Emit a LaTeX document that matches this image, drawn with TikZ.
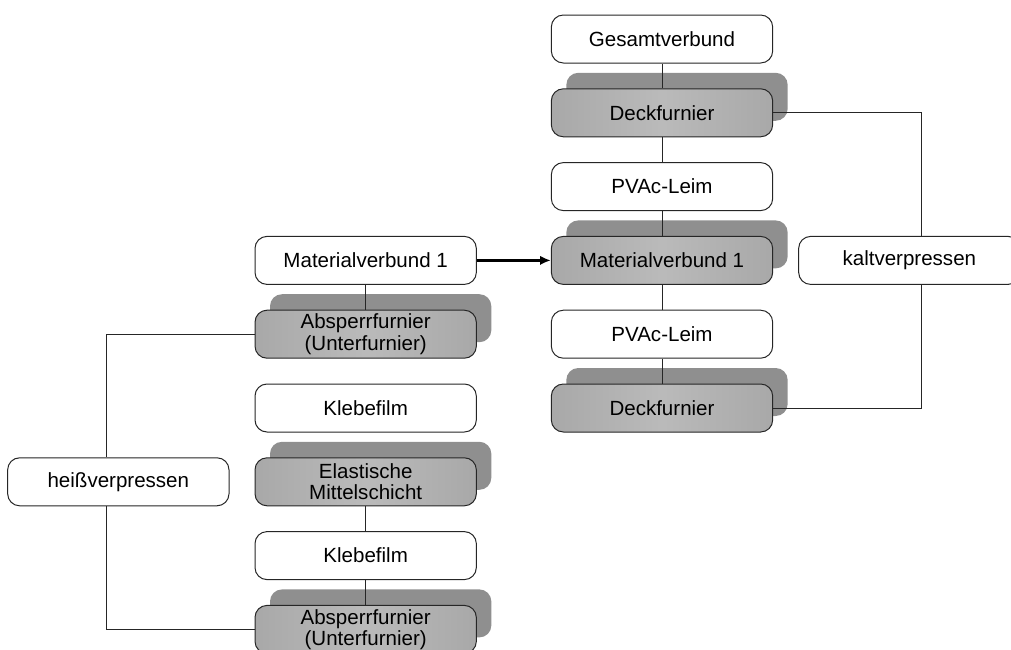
\documentclass[tikz,border=0pt]{standalone}
\usepackage{fontspec}
\setmainfont{Liberation Sans}
\usepackage{tikz}
\usetikzlibrary{arrows.meta,positioning,shadows}

\begin{document}
\begin{tikzpicture}[
    x=0.75pt, y=-0.75pt,
    node distance=18.6pt,
    layer/.style={draw=black!85, line width=0.75pt, rounded corners=9pt, minimum width=166pt, minimum height=36pt, inner ysep=0pt, align=center, font=\fontsize{15.4pt}{16pt}\selectfont},
    whitebox/.style={layer, fill=white},
    graybox/.style={layer, left color=black!34, right color=black!34, middle color=black!27, drop shadow={shadow xshift=11.25pt, shadow yshift=12pt, fill=black!44, opacity=1}},
    link/.style={draw=black!85, line width=0.75pt}
]
\useasboundingbox (0,0) rectangle (1011,650);

% Gesamtverbund (kalt)
\node [whitebox] (gesamt) at (662,39) {Gesamtverbund};
\node [graybox, below=of gesamt] (deckA) {Deckfurnier};
\node [whitebox, below=of deckA] (leimA) {PVAc-Leim};
\node [graybox, below=of leimA] (mvR) {Materialverbund 1};
\node [whitebox, below=of mvR] (leimB) {PVAc-Leim};
\node [graybox, below=of leimB] (deckB) {Deckfurnier};
\node [whitebox, right=18.75pt of mvR] (kalt) {kaltverpressen};

% Materialverbund 1 (heiss)
\node [whitebox, left=55.5pt of mvR] (mvL) {Materialverbund 1};
\node [graybox, below=of mvL] (sperrA) {Absperrfurnier\\(Unterfurnier)};
\node [whitebox, below=of sperrA] (klebA) {Klebefilm};
\node [graybox, below=of klebA] (mittel) {Elastische\\Mittelschicht};
\node [whitebox, below=of mittel] (klebB) {Klebefilm};
\node [graybox, below=of klebB] (sperrB) {Absperrfurnier\\(Unterfurnier)};
\node [whitebox, left=18.75pt of mittel] (heiss) {heißverpressen};

\draw [link] (gesamt) -- (deckA);
\draw [link] (deckA) -- (leimA);
\draw [link] (leimA) -- (mvR);
\draw [link] (mvR) -- (leimB);
\draw [link] (leimB) -- (deckB);
\draw [link] (deckA.east) -| ([xshift=9pt]kalt.north);
\draw [link] (deckB.east) -| ([xshift=9pt]kalt.south);

\draw [link] (mvL) -- (sperrA);
\draw [link] (mittel) -- (klebB);
\draw [link] (klebB) -- (sperrB);
\draw [link] (sperrA.west) -| ([xshift=-9pt]heiss.north);
\draw [link] (sperrB.west) -| ([xshift=-9pt]heiss.south);

\draw [-{Latex[length=8pt,width=7pt]}, line width=2.4pt] (mvL) -- (mvR);

\end{tikzpicture}
\end{document}
